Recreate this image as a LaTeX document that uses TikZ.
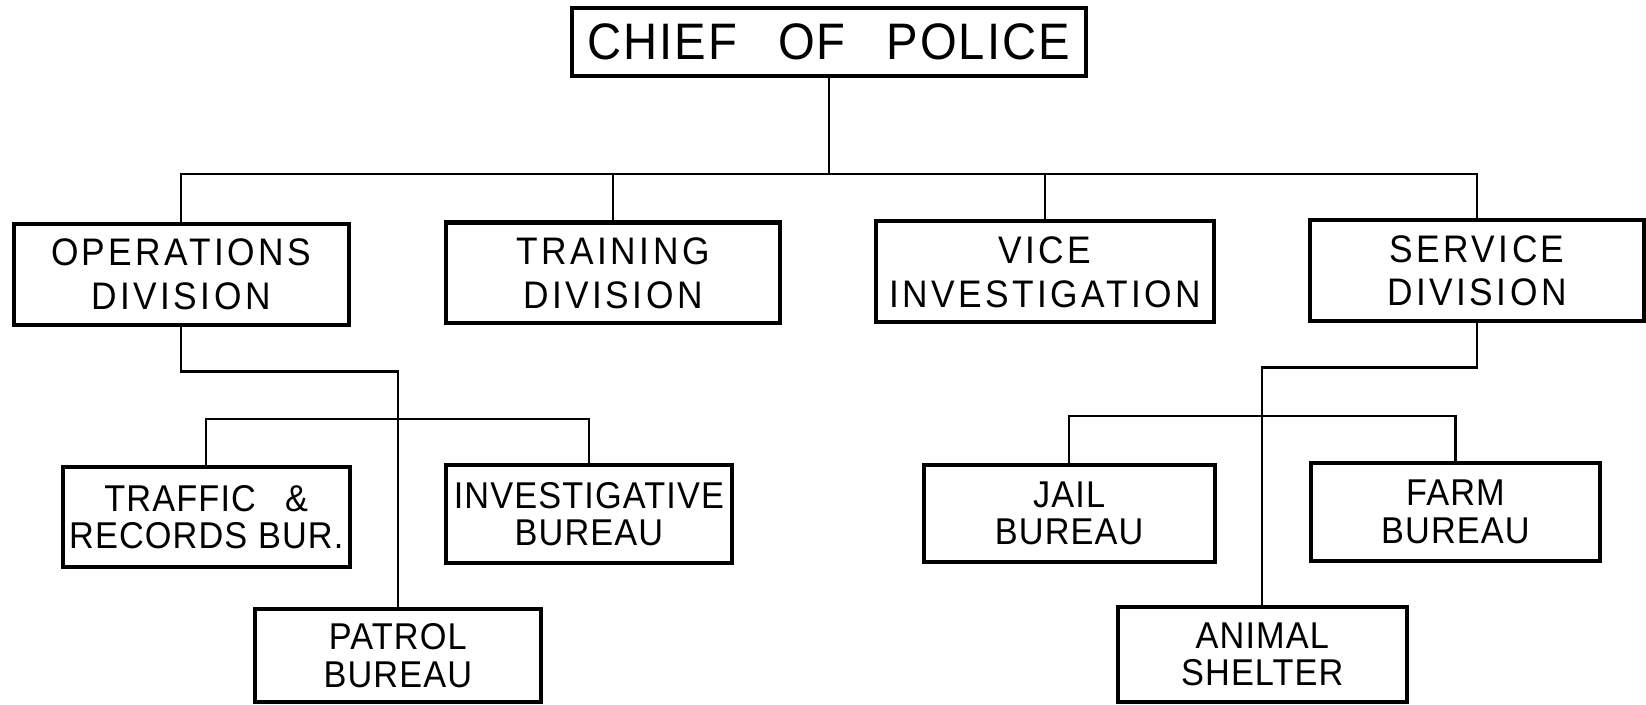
\documentclass[tikz,border=0pt]{standalone}
\usepackage{fontspec}
\newfontfamily\divfont[FakeStretch=0.92,LetterSpace=9]{Liberation Sans}
\newfontfamily\burfont[FakeStretch=0.92,LetterSpace=3]{Liberation Sans}
\newfontfamily\chieffont[FakeStretch=0.92,LetterSpace=4]{Liberation Sans}
\begin{document}
\begin{tikzpicture}[x=0.01cm,y=-0.01cm,
  box/.style={draw,line width=1.1pt,rectangle,inner sep=0pt,align=center},
  divbox/.style={box,font=\divfont\fontsize{10.4pt}{11.9pt}\selectfont},
  burbox/.style={box,font=\burfont\fontsize{10.1pt}{10.1pt}\selectfont},
  conn/.style={line width=0.6pt}]
\useasboundingbox (0,0) rectangle (1568,671);
\node[box,font=\chieffont\fontsize{13.9pt}{14pt}\selectfont,minimum width=4.89cm,minimum height=0.64cm] (chief) at (789.5,40) {CHIEF\enspace\ OF\enspace\ POLICE};
\node[divbox,minimum width=3.19cm,minimum height=0.97cm] (ops) at (172.5,261.5) {OPERATIONS\\DIVISION};
\node[divbox,minimum width=3.18cm,minimum height=0.96cm] (train) at (584,260) {TRAINING\\DIVISION};
\node[divbox,minimum width=3.21cm,minimum height=0.96cm] (vice) at (995.5,259) {VICE\\INVESTIGATION};
\node[divbox,minimum width=3.18cm,minimum height=0.96cm] (serv) at (1407,258) {SERVICE\\DIVISION};
\node[burbox,minimum width=2.73cm,minimum height=0.95cm] (traffic) at (196.5,492.5) {TRAFFIC\enspace\ \&\\RECORDS BUR.};
\node[burbox,minimum width=2.72cm,minimum height=0.93cm] (invest) at (561,489.5) {INVESTIGATIVE\\BUREAU};
\node[burbox,minimum width=2.72cm,minimum height=0.89cm] (patrol) at (379,624.5) {PATROL\\BUREAU};
\node[burbox,minimum width=2.77cm,minimum height=0.92cm] (jail) at (1018.5,489) {JAIL\\BUREAU};
\node[burbox,minimum width=2.75cm,minimum height=0.93cm] (farm) at (1386.5,487.5) {FARM\\BUREAU};
\node[burbox,minimum width=2.75cm,minimum height=0.91cm] (animal) at (1202.5,623.5) {ANIMAL\\SHELTER};
\coordinate (bar1) at (789.5,166);
\coordinate (j1) at (379,354);
\coordinate (b2) at (379,399);
\coordinate (j2) at (1202.5,350);
\coordinate (b3) at (1202.5,396);
\draw[conn] (chief.south) -- (bar1);
\draw[conn] (ops.north) |- (bar1) -| (serv.north);
\draw[conn] (train.north) -- (train.north |- bar1);
\draw[conn] (vice.north) -- (vice.north |- bar1);
\draw[conn] (ops.south) |- (j1) -- (patrol.north);
\draw[conn] (traffic.north) |- (b2) -| (invest.north);
\draw[conn] (serv.south) |- (j2) -- (animal.north);
\draw[conn] (jail.north) |- (b3) -| (farm.north);
\end{tikzpicture}
\end{document}
